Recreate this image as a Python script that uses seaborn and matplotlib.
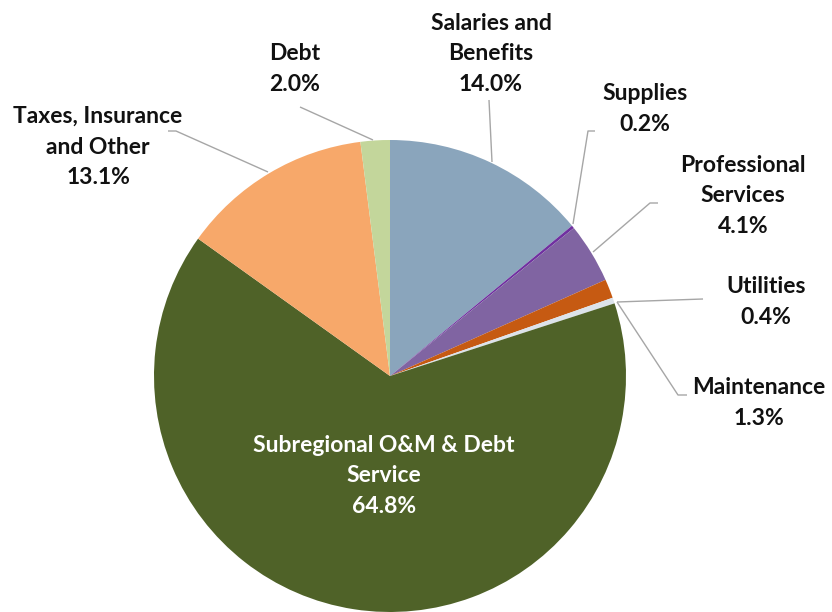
import matplotlib
matplotlib.use("Agg")
import matplotlib.pyplot as plt
import seaborn as sns

sns.set_theme(style="white")
plt.rcParams["font.family"] = ["Lato", "DejaVu Sans"]

# Budget shares, clockwise from 12 o'clock
categories = ["Salaries and\nBenefits", "Supplies", "Professional\nServices",
              "Maintenance", "Utilities", "Subregional O&M & Debt\nService",
              "Taxes, Insurance\nand Other", "Debt"]
shares = [14.0, 0.2, 4.1, 1.3, 0.4, 64.8, 13.1, 2.0]
colors = ["#8AA5BC", "#7030A0", "#8064A2", "#C65A12", "#DCE3EA",
          "#4F6228", "#F7A86A", "#C3D69B"]

W, H = 832, 612
fig = plt.figure(figsize=(W / 100, H / 100), dpi=100)
ax = fig.add_axes([0, 0, 1, 1])
ax.set_xlim(0, W)
ax.set_ylim(0, H)
ax.set_aspect("equal")
ax.axis("off")

cx, cy, r = 390, H - 376, 236
ax.pie(shares, colors=colors, startangle=90, counterclock=False,
       center=(cx, cy), radius=r, wedgeprops=dict(linewidth=0))
ax.set_xlim(0, W)
ax.set_ylim(0, H)

# label block centers (x, y from top) and leader-line vertices
label_pos = {
    "Salaries and\nBenefits": (491, 54),
    "Supplies": (645, 109),
    "Professional\nServices": (743, 196),
    "Maintenance": (759, 403),
    "Utilities": (766, 302),
    "Subregional O&M & Debt\nService": (384, 476),
    "Taxes, Insurance\nand Other": (98, 147),
    "Debt": (295, 69),
}
leaders = {
    "Salaries and\nBenefits": [(489, 100), (492, 162)],
    "Supplies": [(595, 131), (588, 131), (573, 224)],
    "Professional\nServices": [(658, 203), (650, 203), (593, 252)],
    "Utilities": [(703, 299), (617, 302)],
    "Maintenance": [(687, 395), (678, 395), (617, 302)],
    "Taxes, Insurance\nand Other": [(168, 131), (176, 131), (268, 172)],
    "Debt": [(300, 107), (373, 140)],
}

for name, pts in leaders.items():
    xs = [p[0] for p in pts]
    ys = [H - p[1] for p in pts]
    ax.plot(xs, ys, color="#A6A6A6", lw=1.0, solid_capstyle="butt")

for name, val in zip(categories, shares):
    x, y = label_pos[name]
    color = "white" if val > 50 else "#111111"
    ax.text(x, H - y, f"{name}\n{val:.1f}%", ha="center", va="center",
            fontsize=16.5, fontweight="bold", color=color, linespacing=1.55)

fig.savefig("out.png", dpi=100)
